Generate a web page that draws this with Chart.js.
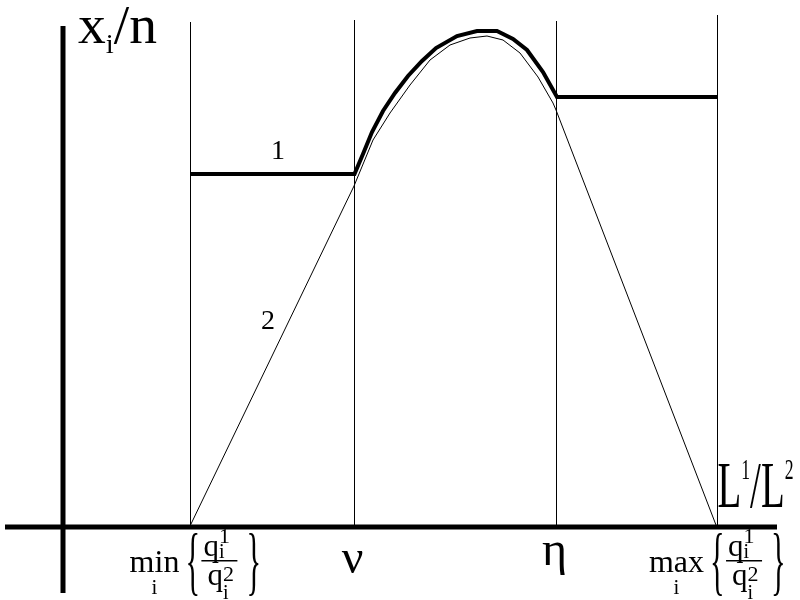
<!DOCTYPE html>
<html>
<head>
    <meta charset="utf-8">
    <title>x_i/n en fonction de L1/L2</title>
    <script src="https://cdn.jsdelivr.net/npm/chart.js"></script>
    <style>
        html, body { margin: 0; padding: 0; background: #fff; }
        .chart-container { width: 800px; height: 600px; }
    </style>
</head>
<body>
    <div class="chart-container">
        <canvas id="chart"></canvas>
    </div>

    <script>
        // Repères verticaux : min(q1/q2), nu, eta, max(q1/q2)
        const markX = [12.75, 29.15, 49.35, 65.45];
        const markTop = [50.5, 50.7, 50.6, 51.2];
        const markLabels = ['min', 'ν', 'η', 'max'];

        // Courbe 1 (trait épais)
        const curve1X = [12.75, 29.15, 30.0, 30.9, 32.0, 33.2, 34.5, 35.9, 37.3, 39.4, 41.4, 43.4, 45.0, 46.4, 48.0, 49.4, 65.5];
        const curve1Y = [35.3, 35.3, 37.3, 39.5, 41.6, 43.4, 45.1, 46.6, 47.9, 49.1, 49.6, 49.6, 48.8, 47.7, 45.5, 43.0, 43.0];

        // Courbe 2 (trait fin)
        const curve2X = [12.75, 29.1, 31.0, 32.7, 34.7, 36.7, 38.7, 40.7, 42.4, 44.0, 45.7, 47.5, 49.0, 49.3, 65.3];
        const curve2Y = [0.2, 34.1, 38.7, 41.4, 44.2, 46.7, 48.2, 48.9, 49.1, 48.7, 47.4, 45.0, 42.4, 41.7, 0.2];

        // Axes
        const axisXRange = [-5.8, 71.4];
        const axisYRange = [-6.6, 50.1];

        const toPoints = (xs, ys) => xs.map((x, i) => ({ x: x, y: ys[i] }));

        const datasets = [];
        datasets.push({ data: toPoints(curve1X, curve1Y), borderWidth: 4 });
        datasets.push({ data: toPoints(curve2X, curve2Y), borderWidth: 1 });
        markX.forEach((x, i) => {
            datasets.push({ data: [{ x: x, y: 0 }, { x: x, y: markTop[i] }], borderWidth: 1 });
        });
        datasets.push({ data: [{ x: axisXRange[0], y: 0 }, { x: axisXRange[1], y: 0 }], borderWidth: 5 });
        datasets.push({ data: [{ x: 0, y: axisYRange[0] }, { x: 0, y: axisYRange[1] }], borderWidth: 5 });
        datasets.forEach(ds => {
            ds.showLine = true;
            ds.borderColor = '#000';
            ds.pointRadius = 0;
            ds.fill = false;
        });

        const FONT = '"Liberation Serif", "Times New Roman", serif';

        function runsWidth(ctx, runs) {
            let w = 0;
            runs.forEach(([t, size]) => {
                ctx.font = size + 'px ' + FONT;
                w += ctx.measureText(t).width;
            });
            return w;
        }

        // écrit une suite de morceaux [texte, taille, décalage vertical]
        function drawRuns(ctx, x, y, runs) {
            runs.forEach(([t, size, dy]) => {
                ctx.font = size + 'px ' + FONT;
                ctx.fillText(t, x, y + dy);
                x += ctx.measureText(t).width;
            });
            return x;
        }

        function drawBrace(ctx, ch, x, base) {
            ctx.save();
            ctx.translate(x, base);
            ctx.scale(0.4, 1);
            ctx.font = '76px ' + FONT;
            ctx.fillText(ch, 0, 0);
            ctx.restore();
        }

        // min_i { q_i^1 / q_i^2 }  ou  max_i { ... }
        function drawRatio(ctx, cx, word, axisY) {
            ctx.font = '32px ' + FONT;
            const w = ctx.measureText(word).width;
            const s = cx - (w + 82) / 2;
            const e = s + w;
            ctx.textAlign = 'left';
            ctx.fillText(word, s, axisY + 45);
            ctx.textAlign = 'center';
            ctx.font = '21px ' + FONT;
            ctx.fillText('i', s + w / 2, axisY + 67);
            ctx.textAlign = 'left';
            drawBrace(ctx, '{', e + 6, axisY + 59);
            let q = drawRuns(ctx, e + 24, axisY + 29, [['q', 31, 0]]);
            drawRuns(ctx, q, axisY + 16, [['1', 22, 0]]);
            drawRuns(ctx, q, axisY + 31, [['i', 20, 0]]);
            ctx.fillRect(e + 22, axisY + 33, 36, 1.5);
            q = drawRuns(ctx, e + 28, axisY + 58, [['q', 31, 0]]);
            drawRuns(ctx, q, axisY + 54, [['2', 22, 0]]);
            drawRuns(ctx, q, axisY + 72, [['i', 20, 0]]);
            drawBrace(ctx, '}', e + 67, axisY + 59);
        }

        const textPlugin = {
            id: 'textes',
            afterDraw(chart) {
                const ctx = chart.ctx;
                const xs = chart.scales.x;
                const ys = chart.scales.y;
                const axisY = ys.getPixelForValue(0);
                ctx.save();
                ctx.fillStyle = '#000';
                ctx.textBaseline = 'alphabetic';

                // titre de l'axe vertical : x_i/n
                ctx.textAlign = 'left';
                const yRuns = [['x', 54, 0], ['i', 28, 10], ['/', 54, 0], ['n', 54, 0]];
                const yScaleX = 79 / runsWidth(ctx, yRuns);
                ctx.save();
                ctx.translate(xs.getPixelForValue(1.5), ys.getPixelForValue(48.4));
                ctx.scale(yScaleX, 1);
                drawRuns(ctx, 0, 0, yRuns);
                ctx.restore();

                // titre de l'axe horizontal : L1/L2 (police resserrée)
                const xRuns = [['L', 66, 0], ['1', 30, -28], ['/', 66, 0], ['L', 66, 0], ['2', 30, -28]];
                const xScaleX = 76 / runsWidth(ctx, xRuns);
                ctx.save();
                ctx.translate(xs.getPixelForValue(65.45), ys.getPixelForValue(2.0));
                ctx.scale(xScaleX, 1);
                drawRuns(ctx, 0, 0, xRuns);
                ctx.restore();

                // numéros des courbes
                ctx.textAlign = 'center';
                ctx.font = '28px ' + FONT;
                ctx.fillText('1', xs.getPixelForValue(21.5), ys.getPixelForValue(36.8));
                ctx.fillText('2', xs.getPixelForValue(20.5), ys.getPixelForValue(19.8));

                // étiquettes sous l'axe
                markX.forEach((x, i) => {
                    const px = xs.getPixelForValue(x);
                    const label = markLabels[i];
                    if (label === 'min' || label === 'max') {
                        drawRatio(ctx, px + (label === 'min' ? 5 : 0), label, axisY);
                    } else {
                        ctx.textAlign = 'center';
                        ctx.font = '48px ' + FONT;
                        ctx.fillText(label, px - 2, axisY + (label === 'ν' ? 46 : 38));
                    }
                });
                ctx.restore();
            }
        };

        new Chart(document.getElementById('chart').getContext('2d'), {
            type: 'scatter',
            data: { datasets: datasets },
            options: {
                responsive: true,
                maintainAspectRatio: false,
                animation: false,
                layout: { padding: 0 },
                plugins: {
                    legend: { display: false },
                    tooltip: { enabled: false }
                },
                elements: { line: { tension: 0 } },
                scales: {
                    x: { type: 'linear', display: false, min: -6.3, max: 73.7 },
                    y: { type: 'linear', display: false, min: -7.3, max: 52.7 }
                }
            },
            plugins: [textPlugin]
        });
    </script>
</body>
</html>
